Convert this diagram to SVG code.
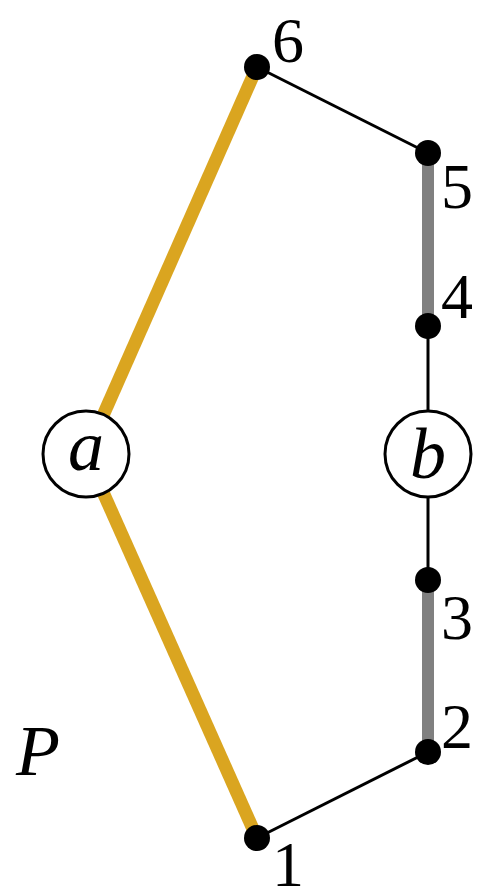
<svg xmlns="http://www.w3.org/2000/svg" width="479" height="895" viewBox="0 0 479 895">
<style>
.thin{stroke:#000;stroke-width:3;fill:none}
.gold{stroke:#DAA520;stroke-width:13;fill:none}
.gray{stroke:#808080;stroke-width:12;fill:none}
.dot{fill:#000}
.node{fill:#fff;stroke:#000;stroke-width:3}
.lbl{font-family:"Liberation Serif","DejaVu Serif",serif;font-size:64px;fill:#000}
.it{font-style:italic;font-size:72px}
</style>
<rect width="479" height="895" fill="#fff"/>
<g id="connectors">
<line class="gold" x1="86" y1="454" x2="257" y2="67"/>
<line class="gold" x1="86" y1="454" x2="257" y2="838"/>
<line class="thin" x1="257" y1="67" x2="428" y2="153"/>
<line class="gray" x1="428" y1="153" x2="428" y2="326"/>
<line class="thin" x1="428" y1="326" x2="428" y2="580"/>
<line class="gray" x1="428" y1="580" x2="428" y2="752"/>
<line class="thin" x1="428" y1="752" x2="257" y2="838"/>
</g>
<g id="node-a"><circle class="node" cx="86" cy="454" r="43"/><text class="lbl it" x="86" y="470" text-anchor="middle">a</text></g>
<g id="node-b"><circle class="node" cx="428" cy="454" r="43"/><text class="lbl it" x="428" y="478" text-anchor="middle">b</text></g>
<g id="v6"><circle class="dot" cx="257" cy="67" r="13"/><text class="lbl" x="272" y="62">6</text></g>
<g id="v5"><circle class="dot" cx="428" cy="153" r="13"/><text class="lbl" x="441" y="208">5</text></g>
<g id="v4"><circle class="dot" cx="428" cy="326" r="13"/><text class="lbl" x="441" y="318">4</text></g>
<g id="v3"><circle class="dot" cx="428" cy="580" r="13"/><text class="lbl" x="441" y="639">3</text></g>
<g id="v2"><circle class="dot" cx="428" cy="752" r="13"/><text class="lbl" x="441" y="748">2</text></g>
<g id="v1"><circle class="dot" cx="257" cy="838" r="13"/><text class="lbl" x="272" y="886">1</text></g>
<g id="label-P"><text class="lbl it" x="16" y="775">P</text></g>
</svg>
